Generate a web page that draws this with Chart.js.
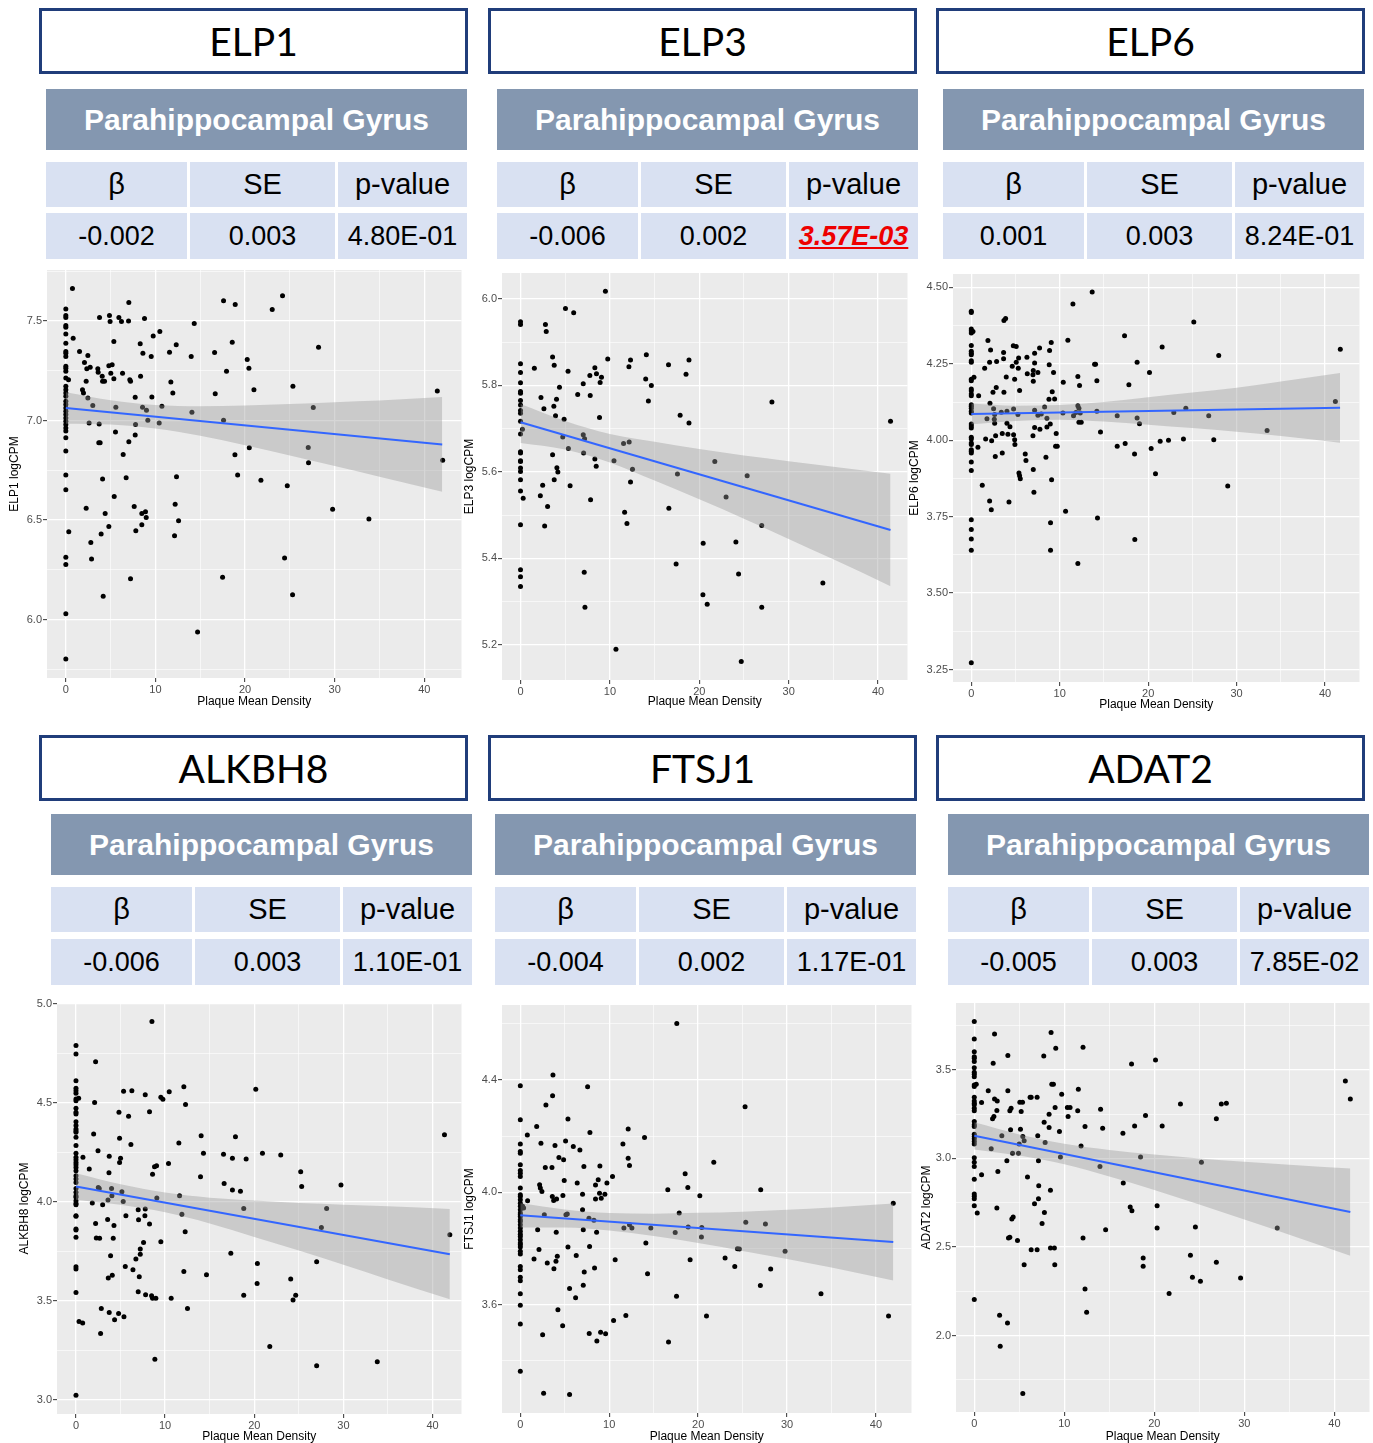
<!DOCTYPE html>
<html>
<head>
<meta charset="utf-8">
<script src="https://cdn.jsdelivr.net/npm/chart.js@4.4.0/dist/chart.umd.min.js"></script>
<style>
  body { margin: 0; background: #fff; width: 1373px; height: 1443px; position: relative; overflow: hidden;
         font-family: "Liberation Sans", Arial, sans-serif; }
  .box { position: absolute; box-sizing: border-box; border: 3px solid #203d7a; background: #fff;
         display: flex; align-items: center; justify-content: center;
         font-family: Lato, "Open Sans", sans-serif; font-size: 39px; color: #000; }
  .hdr { position: absolute; background: #8497b0; color: #fff; font-weight: bold; font-size: 30px;
         display: flex; align-items: center; justify-content: center; }
  .cell { position: absolute; background: #d9e1f2; color: #000; font-size: 27px;
          display: flex; align-items: center; justify-content: center; }
  .cell.head { font-size: 29px; }
  .sig { color: #ee0000; font-weight: bold; font-style: italic; text-decoration: underline; }
  canvas { position: absolute; }
</style>
</head>
<body>
<script>
// ---- table values ----
const GENES = ['ELP1', 'ELP3', 'ELP6', 'ALKBH8', 'FTSJ1', 'ADAT2'];
const REGION = 'Parahippocampal Gyrus';
const COLS = ['β', 'SE', 'p-value'];
const BETA = ['-0.002', '-0.006', '0.001', '-0.006', '-0.004', '-0.005'];
const SE = ['0.003', '0.002', '0.003', '0.003', '0.002', '0.003'];
const PVAL = ['4.80E-01', '3.57E-03', '8.24E-01', '1.10E-01', '1.17E-01', '7.85E-02'];

const X_MAJOR = [0, 10, 20, 30, 40];
const X_MINOR = [5, 15, 25, 35];

// ---- ELP1 ----
const ELP1_ZERO = [7.56, 7.527, 7.518, 7.477, 7.468, 7.435, 7.388, 7.347, 7.338, 7.322, 7.272, 7.263, 7.247, 7.213,
  7.172, 7.155, 7.138, 7.122, 7.097, 7.08, 7.063, 7.047, 7.03, 7.013, 6.997, 6.98, 6.963, 6.947, 6.913, 6.847,
  6.727, 6.653, 6.313, 6.277, 6.03, 5.802];
const ELP1_PTS = [[0.74,7.663],[0.82,7.413],[0.3,7.205],[0.33,6.442],[1.53,7.347],[1.86,7.155],[1.97,7.138],[2.08,7.292],
  [2.27,7.197],[2.46,7.327],[2.34,7.26],[2.46,7.113],[2.6,6.987],[2.27,6.56],[2.79,6.387],[2.87,6.305],[2.72,7.268],
  [3.01,7.075],[3.57,7.26],[3.61,7.243],[3.76,7.518],[3.72,6.983],[3.68,6.888],[3.83,6.888],[3.94,6.43],[4.06,7.222],
  [4.1,7.197],[4.32,7.197],[4.1,6.707],[4.17,6.118],[4.39,6.533],[4.8,7.275],[4.87,7.527],[4.94,7.497],[5.02,7.238],
  [5.17,7.28],[4.8,6.468],[5.36,7.397],[5.36,7.21],[5.58,7.067],[5.54,6.942],[5.4,6.618],[5.92,7.517],[6.21,7.497],
  [6.33,7.238],[6.4,6.83],[6.73,6.713],[7.03,7.593],[7.0,7.5],[7.14,7.205],[7.22,7.197],[7.03,6.893],[7.22,6.205],
  [7.63,6.568],[7.74,7.117],[7.78,6.98],[7.74,6.927],[7.81,6.447],[8.3,7.385],[8.34,7.222],[8.6,7.338],[8.56,7.067],
  [8.48,6.477],[8.48,6.533],[8.78,7.513],[8.89,6.542],[8.97,6.513],[9.0,7.052],[9.15,7.002],[9.53,7.322],[9.6,7.118],
  [9.75,7.425],[10.42,6.988],[10.49,7.447],[10.72,7.072],[11.57,7.343],[11.72,7.193],[11.94,7.138],[12.32,7.38],
  [12.2,6.58],[12.35,6.718],[12.13,6.422],[12.58,6.497],[13.99,7.322],[14.07,7.042],[14.33,7.487],[14.7,5.938],
  [16.6,7.342],[16.67,7.135],[17.6,7.602],[17.6,7.002],[17.49,6.213],[17.93,7.247],[18.57,7.393],[18.9,7.583],
  [18.87,6.828],[19.17,6.727],[20.24,7.307],[20.43,7.263],[20.47,6.863],[20.99,7.155],[21.77,6.7],[23.03,7.558],
  [24.18,7.627],[24.41,6.31],[24.71,6.672],[25.34,7.172],[25.3,6.125],[27.05,6.865],[27.08,6.788],[27.61,7.065],
  [28.2,7.368],[29.77,6.555],[33.82,6.505],[41.45,7.148],[42.05,6.8]];
const ELP1_BAND_X = [0, 5, 10, 15, 20, 25, 30, 35, 42];
const ELP1_HI = [7.142, 7.102, 7.078, 7.072, 7.076, 7.083, 7.092, 7.10, 7.118];
const ELP1_LO = [6.984, 6.980, 6.960, 6.923, 6.876, 6.825, 6.772, 6.718, 6.642];
const ELP1_FIT = [7.063, 6.88];
const ELP1_Y_MAJOR = [6.0, 6.5, 7.0, 7.5];
const ELP1_Y_MINOR = [5.75, 6.25, 6.75, 7.25, 7.75];

// ---- ELP3 ----
const ELP3_ZERO = [5.947, 5.941, 5.850, 5.830, 5.806, 5.786, 5.782, 5.765, 5.755, 5.742, 5.736, 5.717, 5.688, 5.647,
  5.644, 5.626, 5.624, 5.609, 5.601, 5.582, 5.556, 5.478, 5.374, 5.358, 5.335];
const ELP3_PTS = [[0.22,5.699],[0.3,5.539],[1.55,5.840],[2.22,5.545],[2.29,5.772],[2.48,5.569],[2.62,5.746],[2.7,5.475],
  [2.79,5.941],[2.88,5.925],[3.03,5.520],[3.59,5.866],[3.59,5.640],[3.77,5.847],[3.73,5.752],[3.77,5.582],[3.92,5.730],
  [4.03,5.768],[4.07,5.610],[4.18,5.600],[4.36,5.796],[4.73,5.681],[4.88,5.722],[5.03,5.978],[5.32,5.833],[5.36,5.654],
  [5.55,5.568],[5.95,5.968],[6.4,5.779],[7.02,5.804],[7.02,5.686],[7.06,5.644],[7.17,5.677],[7.13,5.368],[7.21,5.287],
  [7.76,5.823],[7.8,5.777],[7.84,5.536],[8.32,5.841],[8.32,5.630],[8.47,5.613],[8.5,5.827],[8.84,5.726],[8.91,5.807],
  [9.06,5.819],[9.5,6.018],[9.76,5.861],[10.46,5.626],[10.68,5.190],[11.53,5.666],[11.65,5.507],[11.91,5.481],
  [12.13,5.843],[12.16,5.669],[12.31,5.859],[12.31,5.577],[12.53,5.606],[14.01,5.815],[14.08,5.871],[14.31,5.764],
  [14.64,5.800],[16.56,5.848],[16.6,5.516],[17.41,5.387],[17.56,5.595],[17.86,5.731],[18.52,5.826],[18.85,5.859],
  [18.85,5.713],[20.44,5.435],[20.89,5.294],[20.41,5.316],[21.74,5.624],[23.0,5.542],[24.1,5.438],[24.4,5.364],
  [24.7,5.162],[25.36,5.591],[26.99,5.476],[26.99,5.287],[28.13,5.762],[33.83,5.343],[41.4,5.717]];
const ELP3_BAND_X = [0, 5, 10, 15, 20, 25, 30, 35, 41.4];
const ELP3_HI = [5.757, 5.718, 5.688, 5.670, 5.653, 5.638, 5.625, 5.612, 5.596];
const ELP3_LO = [5.667, 5.652, 5.622, 5.580, 5.537, 5.492, 5.445, 5.398, 5.336];
const ELP3_FIT = [5.715, 5.466];
const ELP3_Y_MAJOR = [5.2, 5.4, 5.6, 5.8, 6.0];
const ELP3_Y_MINOR = [5.3, 5.5, 5.7, 5.9];

// ---- ELP6 ----
const ELP6_ZERO = [4.422, 4.418, 4.364, 4.358, 4.351, 4.310, 4.291, 4.285, 4.280, 4.260, 4.255, 4.200, 4.195, 4.168,
  4.162, 4.151, 4.146, 4.116, 4.111, 4.105, 4.095, 4.089, 4.053, 4.047, 4.040, 4.010, 4.004, 3.991, 3.986, 3.969,
  3.964, 3.958, 3.929, 3.901, 3.740, 3.708, 3.677, 3.640, 3.272];
const ELP6_PTS = [[0.19,4.356],[0.3,4.206],[0.83,4.146],[0.75,3.977],[1.24,3.853],[1.51,4.236],[1.62,4.004],[1.88,4.326],
  [1.77,4.070],[2.07,3.801],[2.18,4.295],[2.07,4.255],[2.11,4.121],[2.26,3.773],[2.3,3.998],[2.45,4.157],[2.52,4.103],
  [2.64,4.084],[2.6,4.069],[2.64,4.056],[2.71,3.947],[2.75,4.015],[2.82,4.173],[2.86,4.258],[3.39,4.092],[3.5,3.958],
  [3.5,4.022],[3.65,4.267],[3.65,4.287],[3.69,4.157],[3.69,4.392],[3.88,4.398],[3.95,4.207],[4.03,4.095],[4.03,4.056],
  [4.14,4.020],[4.26,3.798],[4.37,4.044],[4.63,4.242],[4.75,4.309],[4.78,4.102],[4.78,4.018],[4.9,4.002],[4.93,3.986],
  [4.9,4.200],[5.08,4.307],[5.08,4.255],[5.31,4.236],[5.35,4.269],[5.27,4.084],[5.46,4.163],[5.39,3.893],[5.46,3.884],
  [5.54,3.874],[6.1,3.955],[6.18,3.934],[6.29,4.272],[6.33,4.218],[6.97,4.214],[7.01,4.228],[7.01,4.193],[6.97,4.015],
  [7.01,3.904],[7.08,3.830],[7.16,4.285],[7.16,4.253],[7.16,4.042],[7.16,4.098],[7.53,4.222],[7.53,4.082],[7.72,4.302],
  [7.76,4.036],[7.91,4.086],[8.29,4.109],[8.44,3.944],[8.55,4.072],[8.55,4.043],[8.78,4.134],[8.81,4.247],[8.85,4.294],
  [8.96,3.730],[8.96,3.640],[8.93,4.053],[9.04,4.320],[9.08,3.871],[9.15,4.159],[9.3,4.222],[9.42,4.135],[9.6,4.022],
  [9.53,3.980],[9.72,3.980],[10.4,4.190],[10.36,4.089],[10.66,3.768],[10.92,4.327],[11.49,4.446],[11.56,4.080],
  [11.83,4.091],[12.05,4.209],[12.05,4.113],[12.17,4.105],[12.17,4.059],[12.24,4.179],[12.32,4.089],[12.43,4.059],
  [12.05,3.597],[13.67,4.485],[13.94,4.249],[14.05,4.249],[14.2,4.195],[14.2,4.095],[14.27,3.746],[14.61,4.027],
  [16.5,3.980],[16.5,4.080],[17.33,4.342],[17.4,3.989],[17.82,4.182],[18.46,3.955],[18.49,3.675],[18.75,4.255],
  [18.75,4.073],[19.02,4.054],[20.15,4.222],[20.34,3.973],[20.83,3.890],[21.58,4.305],[21.36,3.997],[22.3,4.000],
  [22.9,4.091],[23.99,4.004],[24.26,4.105],[25.16,4.387],[26.85,4.080],[27.42,4.002],[27.98,4.277],[29.0,3.850],
  [33.45,4.032],[41.17,4.127],[41.73,4.298]];
const ELP6_BAND_X = [0, 5, 10, 15, 20, 25, 30, 35, 41.7];
const ELP6_HI = [4.120, 4.113, 4.115, 4.125, 4.141, 4.156, 4.172, 4.192, 4.220];
const ELP6_LO = [4.052, 4.063, 4.067, 4.061, 4.051, 4.040, 4.028, 4.014, 3.992];
const ELP6_FIT = [4.086, 4.106];
const ELP6_Y_MAJOR = [3.25, 3.5, 3.75, 4.0, 4.25, 4.5];
const ELP6_Y_MINOR = [3.375, 3.625, 3.875, 4.125, 4.375];

// ---- ALKBH8 ----
const ALKBH8_ZERO = [4.790, 4.747, 4.613, 4.574, 4.562, 4.549, 4.520, 4.512, 4.473, 4.453, 4.444, 4.406, 4.386, 4.369,
  4.360, 4.352, 4.327, 4.285, 4.246, 4.226, 4.214, 4.200, 4.189, 4.175, 4.158, 4.133, 4.116, 4.099, 4.069, 4.049,
  4.032, 4.024, 4.007, 3.993, 3.987, 3.931, 3.928, 3.864, 3.859, 3.822, 3.673, 3.662, 3.544, 3.025];
const ALKBH8_PTS = [[0.3,4.524],[0.34,3.397],[0.78,4.226],[0.75,3.389],[1.49,4.167],[1.83,3.995],[1.98,4.343],[2.09,4.503],
  [2.2,4.709],[2.2,3.892],[2.28,3.818],[2.47,4.259],[2.5,4.074],[2.61,4.069],[2.65,3.817],[2.76,3.337],[2.84,3.463],
  [2.99,3.987],[3.55,3.912],[3.59,4.010],[3.62,3.616],[3.7,4.148],[3.73,4.231],[3.73,3.443],[3.88,3.729],[3.99,4.069],
  [4.03,4.032],[4.07,3.631],[4.18,3.817],[4.26,3.882],[4.33,3.406],[4.78,3.438],[4.82,4.453],[4.89,4.322],[4.89,4.200],
  [5.0,4.221],[5.15,4.052],[5.3,4.003],[5.34,4.559],[5.38,3.421],[5.53,3.675],[5.6,3.931],[5.9,4.433],[6.16,4.290],
  [6.27,4.562],[6.39,3.658],[6.72,3.712],[6.98,3.961],[7.02,3.911],[6.98,3.547],[7.1,3.623],[7.21,3.763],[7.21,3.737],
  [7.58,3.796],[7.77,4.542],[7.73,3.931],[7.77,3.965],[7.81,3.532],[8.25,4.456],[8.25,3.889],[8.48,3.527],[8.59,4.141],
  [8.59,3.515],[8.52,4.911],[8.81,4.178],[8.96,3.515],[9.04,4.183],[8.85,3.207],[9.07,4.020],[9.52,4.529],[9.75,4.519],
  [9.52,3.800],[10.38,4.195],[10.46,4.557],[10.68,3.515],[11.54,4.298],[11.62,4.032],[11.88,3.939],[12.1,4.582],
  [12.29,4.492],[12.25,3.850],[12.1,3.650],[12.51,3.463],[13.97,4.128],[14.04,4.335],[14.3,4.246],[14.64,3.633],
  [16.55,4.242],[16.62,4.094],[17.37,3.741],[17.55,4.061],[17.55,4.221],[17.89,4.330],[18.45,4.054],[18.82,3.968],
  [18.82,3.530],[19.09,4.217],[20.17,4.569],[20.35,3.690],[20.32,3.589],[20.92,4.246],[21.74,3.271],[22.97,4.237],
  [24.09,3.611],[24.35,3.505],[24.65,3.530],[25.21,4.153],[25.32,4.079],[27.0,3.699],[27.0,3.173],[27.53,3.872],
  [28.12,3.968],[29.73,4.086],[33.8,3.194],[41.34,4.340],[41.94,3.835]];
const ALKBH8_BAND_X = [0, 5, 10, 15, 20, 25, 30, 35, 41.94];
const ALKBH8_HI = [4.146, 4.090, 4.048, 4.022, 4.008, 3.995, 3.987, 3.979, 3.965];
const ALKBH8_LO = [4.012, 3.986, 3.948, 3.892, 3.824, 3.755, 3.683, 3.609, 3.509];
const ALKBH8_FIT = [4.079, 3.737];
const ALKBH8_Y_MAJOR = [3.0, 3.5, 4.0, 4.5, 5.0];
const ALKBH8_Y_MINOR = [3.25, 3.75, 4.25, 4.75];

// ---- FTSJ1 ----
const FTSJ1_ZERO = [4.379, 4.258, 4.172, 4.145, 4.139, 4.098, 4.078, 4.068, 4.056, 4.015, 3.991, 3.985, 3.973, 3.961,
  3.950, 3.938, 3.926, 3.920, 3.914, 3.902, 3.896, 3.884, 3.873, 3.861, 3.851, 3.843, 3.831, 3.819, 3.813, 3.805,
  3.790, 3.780, 3.736, 3.724, 3.697, 3.685, 3.639, 3.598, 3.531, 3.363];
const FTSJ1_PTS = [[0.26,3.950],[0.37,3.944],[0.79,4.204],[0.82,3.970],[1.54,3.762],[1.84,4.234],[1.95,3.867],[2.1,3.796],
  [2.17,4.027],[2.25,4.015],[2.32,4.175],[2.43,4.003],[2.51,3.493],[2.62,3.284],[2.7,3.920],[2.81,4.088],[2.88,4.311],
  [3.03,3.748],[3.56,4.088],[3.63,4.344],[3.67,4.418],[3.6,3.985],[3.78,3.728],[3.75,3.971],[3.9,4.167],[4.04,3.858],
  [4.08,3.976],[4.01,3.754],[4.16,3.772],[4.23,3.582],[4.34,4.124],[4.76,3.525],[4.79,3.989],[4.87,4.116],[4.94,4.042],
  [5.13,3.920],[5.28,3.923],[5.36,4.261],[5.09,4.183],[5.36,3.805],[5.54,3.657],[5.54,3.280],[5.96,4.163],[6.29,3.775],
  [6.22,3.624],[6.4,4.033],[6.7,4.151],[7.0,3.993],[7.0,3.938],[7.08,3.867],[7.15,4.092],[7.19,3.716],[7.08,3.669],
  [7.57,4.376],[7.72,3.908],[7.83,4.213],[7.79,3.807],[7.75,3.497],[8.28,3.900],[8.35,3.730],[8.46,4.026],[8.46,3.976],
  [8.58,3.858],[8.61,3.470],[8.76,4.045],[8.95,4.094],[8.91,3.997],[9.03,3.502],[9.1,3.979],[9.51,3.993],[9.59,3.496],
  [9.74,4.033],[10.37,4.056],[10.49,3.543],[10.67,3.760],[11.54,4.172],[11.65,3.873],[11.87,3.561],[12.13,4.225],
  [12.13,4.121],[12.28,4.095],[12.28,3.884],[12.55,3.873],[13.97,4.195],[14.12,3.819],[14.31,3.710],[14.68,3.873],
  [16.59,4.009],[16.67,3.467],[17.42,3.857],[17.6,4.601],[17.57,3.630],[17.87,3.926],[18.54,4.066],[18.84,4.017],
  [18.88,3.876],[19.1,3.760],[20.19,3.988],[20.41,3.875],[20.37,3.841],[20.94,3.559],[21.76,4.107],[23.03,3.766],
  [24.12,3.736],[24.42,3.799],[24.64,3.798],[25.28,4.305],[25.36,3.893],[27.04,4.009],[27.0,3.668],[27.57,3.887],
  [28.16,3.727],[29.78,3.790],[33.82,3.639],[41.42,3.559],[41.95,3.961]];
const FTSJ1_BAND_X = [0, 5, 10, 15, 20, 25, 30, 35, 41.95];
const FTSJ1_HI = [3.961, 3.939, 3.926, 3.924, 3.927, 3.931, 3.938, 3.946, 3.960];
const FTSJ1_LO = [3.875, 3.875, 3.864, 3.844, 3.819, 3.791, 3.762, 3.732, 3.686];
const FTSJ1_FIT = [3.918, 3.823];
const FTSJ1_Y_MAJOR = [3.6, 4.0, 4.4];
const FTSJ1_Y_MINOR = [3.4, 3.8, 4.2, 4.6];

// ---- ADAT2 ----
const ADAT2_ZERO = [3.773, 3.675, 3.603, 3.575, 3.566, 3.547, 3.513, 3.487, 3.476, 3.462, 3.415, 3.406, 3.346, 3.325,
  3.312, 3.303, 3.284, 3.269, 3.209, 3.190, 3.180, 3.137, 3.124, 3.111, 3.096, 3.081, 3.004, 2.979, 2.955, 2.883,
  2.799, 2.786, 2.773, 2.733, 2.203];
const ADAT2_PTS = [[0.22,3.419],[0.33,2.692],[0.81,3.316],[0.81,2.908],[1.55,3.383],[1.88,3.055],[2.1,3.538],[2.25,3.703],
  [2.03,3.224],[2.18,3.237],[2.25,3.336],[2.55,3.325],[2.51,3.271],[2.51,2.720],[2.62,2.927],[2.81,2.115],[2.88,1.940],
  [3.06,3.128],[3.62,2.987],[3.73,3.581],[3.73,3.383],[3.69,2.071],[3.8,2.551],[3.95,2.555],[3.95,3.269],[4.09,3.284],
  [4.03,3.162],[4.17,2.658],[4.32,2.669],[4.25,3.030],[4.8,2.536],[4.91,3.030],[4.99,3.081],[5.06,3.318],[5.13,3.165],
  [5.21,3.265],[5.36,3.318],[5.39,3.124],[5.54,3.100],[5.39,1.673],[5.54,2.400],[5.91,2.895],[6.2,3.346],[6.32,3.346],
  [6.32,2.485],[6.69,2.744],[6.98,3.346],[6.98,2.485],[7.05,3.128],[7.13,2.987],[7.16,2.846],[7.13,2.773],[7.53,2.632],
  [7.72,3.579],[7.76,3.205],[7.79,2.695],[7.87,3.090],[8.31,3.250],[8.31,3.175],[8.46,2.820],[8.46,2.494],[8.53,3.712],
  [8.61,3.419],[8.79,3.419],[8.9,2.494],[8.94,2.400],[8.98,3.288],[9.05,3.622],[9.46,3.152],[9.57,3.008],[9.71,3.363],
  [10.34,3.288],[10.42,3.237],[10.64,3.288],[11.49,3.269],[11.56,3.391],[11.86,3.071],[12.08,3.628],[12.08,2.551],
  [12.3,3.180],[12.3,2.263],[12.48,2.132],[13.96,2.955],[14.03,3.278],[14.26,3.171],[14.59,2.598],[16.51,3.143],
  [16.55,2.861],[17.32,2.726],[17.47,3.534],[17.51,2.705],[17.81,3.184],[18.47,3.008],[18.76,2.438],[18.76,2.391],
  [19.02,3.242],[20.13,3.556],[20.31,2.733],[20.31,2.607],[20.87,3.184],[21.64,2.237],[22.9,3.308],[24.01,2.453],
  [24.23,2.329],[24.56,2.613],[25.12,2.306],[25.23,2.979],[26.89,3.224],[26.89,2.414],[27.44,3.308],[28.0,3.312],
  [29.58,2.325],[33.65,2.607],[41.22,3.438],[41.77,3.336]];
const ADAT2_BAND_X = [0, 5, 10, 15, 20, 25, 30, 35, 41.77];
const ADAT2_HI = [3.205, 3.136, 3.083, 3.048, 3.022, 3.000, 2.981, 2.965, 2.943];
const ADAT2_LO = [3.051, 3.016, 2.967, 2.898, 2.822, 2.740, 2.655, 2.569, 2.451];
const ADAT2_FIT = [3.128, 2.697];
const ADAT2_Y_MAJOR = [2.0, 2.5, 3.0, 3.5];
const ADAT2_Y_MINOR = [1.75, 2.25, 2.75, 3.25, 3.75];

const SERIES = [
  { zero: ELP1_ZERO, pts: ELP1_PTS, bx: ELP1_BAND_X, hi: ELP1_HI, lo: ELP1_LO, fit: ELP1_FIT, yMaj: ELP1_Y_MAJOR, yMin: ELP1_Y_MINOR },
  { zero: ELP3_ZERO, pts: ELP3_PTS, bx: ELP3_BAND_X, hi: ELP3_HI, lo: ELP3_LO, fit: ELP3_FIT, yMaj: ELP3_Y_MAJOR, yMin: ELP3_Y_MINOR },
  { zero: ELP6_ZERO, pts: ELP6_PTS, bx: ELP6_BAND_X, hi: ELP6_HI, lo: ELP6_LO, fit: ELP6_FIT, yMaj: ELP6_Y_MAJOR, yMin: ELP6_Y_MINOR },
  { zero: ALKBH8_ZERO, pts: ALKBH8_PTS, bx: ALKBH8_BAND_X, hi: ALKBH8_HI, lo: ALKBH8_LO, fit: ALKBH8_FIT, yMaj: ALKBH8_Y_MAJOR, yMin: ALKBH8_Y_MINOR },
  { zero: FTSJ1_ZERO, pts: FTSJ1_PTS, bx: FTSJ1_BAND_X, hi: FTSJ1_HI, lo: FTSJ1_LO, fit: FTSJ1_FIT, yMaj: FTSJ1_Y_MAJOR, yMin: FTSJ1_Y_MINOR },
  { zero: ADAT2_ZERO, pts: ADAT2_PTS, bx: ADAT2_BAND_X, hi: ADAT2_HI, lo: ADAT2_LO, fit: ADAT2_FIT, yMaj: ADAT2_Y_MAJOR, yMin: ADAT2_Y_MINOR },
];

// ---- layout (pixels) ----
const BOX_X = [39, 488, 936, 39, 488, 936];
const HDR_X = [46, 497, 943, 51, 495, 948];
const ROW_Y = [{ box: 8, hdr: 89, r1: 162, r2: 213 }, { box: 735, hdr: 814, r1: 887, r2: 939 }];
const CELL_COLS = [[0, 141], [144, 145], [292, 129]];
// left = canvas left, pl/pt/pr/pb = grey panel, bottom = canvas bottom, xr/yr = axis limits
const GEO = [
  { left: 7,   pl: 47,  pt: 270,  pr: 462,  pb: 678,  bottom: 710,  tpad: 2, xr: [-2.1, 44.15], yr: [5.707, 7.756], dec: 1 },
  { left: 462, pl: 502, pt: 273,  pr: 908,  pb: 680,  bottom: 710,  tpad: 2, xr: [-2.07, 43.3], yr: [5.119, 6.06], dec: 1 },
  { left: 907, pl: 953, pt: 274,  pr: 1360, pb: 682,  bottom: 713,  tpad: 2, xr: [-2.07, 43.9], yr: [3.209, 4.544], dec: 2 },
  { left: 17,  pl: 57,  pt: 1003, pr: 462,  pb: 1414, bottom: 1443, tpad: 0, xr: [-2.13, 43.25], yr: [2.93, 5.005], dec: 1 },
  { left: 462, pl: 502, pt: 1005, pr: 912,  pb: 1413, bottom: 1443, tpad: 0, xr: [-2.06, 44.0], yr: [3.214, 4.667], dec: 1 },
  { left: 919, pl: 956, pt: 1003, pr: 1370, pb: 1412, bottom: 1443, tpad: 0, xr: [-2.03, 43.9], yr: [1.568, 3.878], dec: 1 },
];

const FONT = '"Liberation Sans", Arial, sans-serif';

function addDiv(cls, x, y, w, h, html) {
  var d = document.createElement('div');
  d.className = cls;
  d.style.left = x + 'px'; d.style.top = y + 'px';
  d.style.width = w + 'px'; d.style.height = h + 'px';
  d.innerHTML = html;
  document.body.appendChild(d);
  return d;
}

function isIn(list, v) {
  return list.some(function (m) { return Math.abs(m - v) < 1e-6; });
}

var panelBg = {
  id: 'panelBg',
  beforeDraw: function (chart) {
    var a = chart.chartArea, ctx = chart.ctx;
    ctx.save();
    ctx.fillStyle = '#ebebeb';
    ctx.fillRect(a.left, a.top, a.right - a.left, a.bottom - a.top);
    ctx.restore();
  }
};

function buildTable(i) {
  var rows = ROW_Y[i < 3 ? 0 : 1];
  addDiv('box', BOX_X[i], rows.box, 429, 66, GENES[i]);
  addDiv('hdr', HDR_X[i], rows.hdr, 421, 61, REGION);
  var sig = parseFloat(PVAL[i]) < 0.05;
  var vals = [BETA[i], SE[i], sig ? '<span class="sig">' + PVAL[i] + '</span>' : PVAL[i]];
  CELL_COLS.forEach(function (c, k) {
    addDiv('cell head', HDR_X[i] + c[0], rows.r1, c[1], 45, COLS[k]);
    addDiv('cell', HDR_X[i] + c[0], rows.r2, c[1], 46, vals[k]);
  });
}

function buildPlot(i) {
  var g = GEO[i], s = SERIES[i];
  var top = g.pt - 8;
  var w = g.pr + 2 - g.left, h = g.bottom - top;
  var cv = document.createElement('canvas');
  cv.width = w; cv.height = h;
  cv.style.left = g.left + 'px'; cv.style.top = top + 'px';
  cv.style.width = w + 'px'; cv.style.height = h + 'px';
  document.body.appendChild(cv);

  var pts = s.zero.map(function (y) { return { x: 0, y: y }; })
    .concat(s.pts.map(function (p) { return { x: p[0], y: p[1] }; }));
  var xEnd = s.bx[s.bx.length - 1];
  var yTicks = s.yMaj.concat(s.yMin).filter(function (v) { return v >= g.yr[0] && v <= g.yr[1]; });
  var xTicks = X_MAJOR.concat(X_MINOR);

  function axisStyle(major, ticks) {
    return {
      afterBuildTicks: function (sc) { sc.ticks = ticks.map(function (v) { return { value: v }; }); },
      grid: {
        color: '#ffffff',
        lineWidth: function (c) { return c.tick && isIn(major, c.tick.value) ? 1.3 : 0.6; },
        drawTicks: true,
        tickLength: 4,
        tickWidth: 1,
        tickColor: function (c) { return c.tick && isIn(major, c.tick.value) ? '#333333' : 'rgba(0,0,0,0)'; }
      },
      border: { display: false },
    };
  }

  var xAxis = Object.assign(axisStyle(X_MAJOR, xTicks), {
    type: 'linear', min: g.xr[0], max: g.xr[1],
    afterFit: function (sc) { sc.height = g.bottom - g.pb; },
    ticks: {
      autoSkip: false, maxRotation: 0, padding: 1, color: '#4d4d4d',
      font: { family: FONT, size: 11 },
      callback: function (v) { return isIn(X_MAJOR, v) ? String(v) : ''; }
    },
    title: { display: true, text: 'Plaque Mean Density', color: '#000', font: { family: FONT, size: 12, lineHeight: 1 },
             padding: { top: 0, bottom: g.tpad } }
  });
  var yAxis = Object.assign(axisStyle(s.yMaj, yTicks), {
    type: 'linear', min: g.yr[0], max: g.yr[1],
    afterFit: function (sc) { sc.width = g.pl - g.left; },
    ticks: {
      autoSkip: false, padding: 1, color: '#4d4d4d',
      font: { family: FONT, size: 11 },
      callback: function (v) { return isIn(s.yMaj, v) ? v.toFixed(g.dec) : ''; }
    },
    title: { display: true, text: GENES[i] + ' logCPM', color: '#000', font: { family: FONT, size: 12, lineHeight: 1 },
             padding: { top: 2, bottom: 0 } }
  });

  new Chart(cv, {
    type: 'scatter',
    data: {
      datasets: [
        { type: 'line', data: [{ x: 0, y: s.fit[0] }, { x: xEnd, y: s.fit[1] }],
          borderColor: '#3366ff', borderWidth: 2, pointRadius: 0, fill: false },
        { type: 'line', data: s.bx.map(function (x, k) { return { x: x, y: s.hi[k] }; }),
          borderColor: 'rgba(0,0,0,0)', borderWidth: 0, pointRadius: 0, cubicInterpolationMode: 'monotone',
          fill: '+1', backgroundColor: 'rgba(153,153,153,0.4)' },
        { type: 'line', data: s.bx.map(function (x, k) { return { x: x, y: s.lo[k] }; }),
          borderColor: 'rgba(0,0,0,0)', borderWidth: 0, pointRadius: 0, cubicInterpolationMode: 'monotone', fill: false },
        { type: 'scatter', data: pts, pointRadius: 2.5, pointBackgroundColor: '#000', pointBorderWidth: 0, pointHoverRadius: 2.5 }
      ]
    },
    options: {
      responsive: false, animation: false, devicePixelRatio: 1,
      layout: { padding: { top: 8, right: 2, left: 0, bottom: 0 } },
      plugins: { legend: { display: false }, tooltip: { enabled: false } },
      scales: { x: xAxis, y: yAxis }
    },
    plugins: [panelBg]
  });
}

for (var i = 0; i < GENES.length; i++) {
  buildTable(i);
  buildPlot(i);
}
</script>
</body>
</html>
